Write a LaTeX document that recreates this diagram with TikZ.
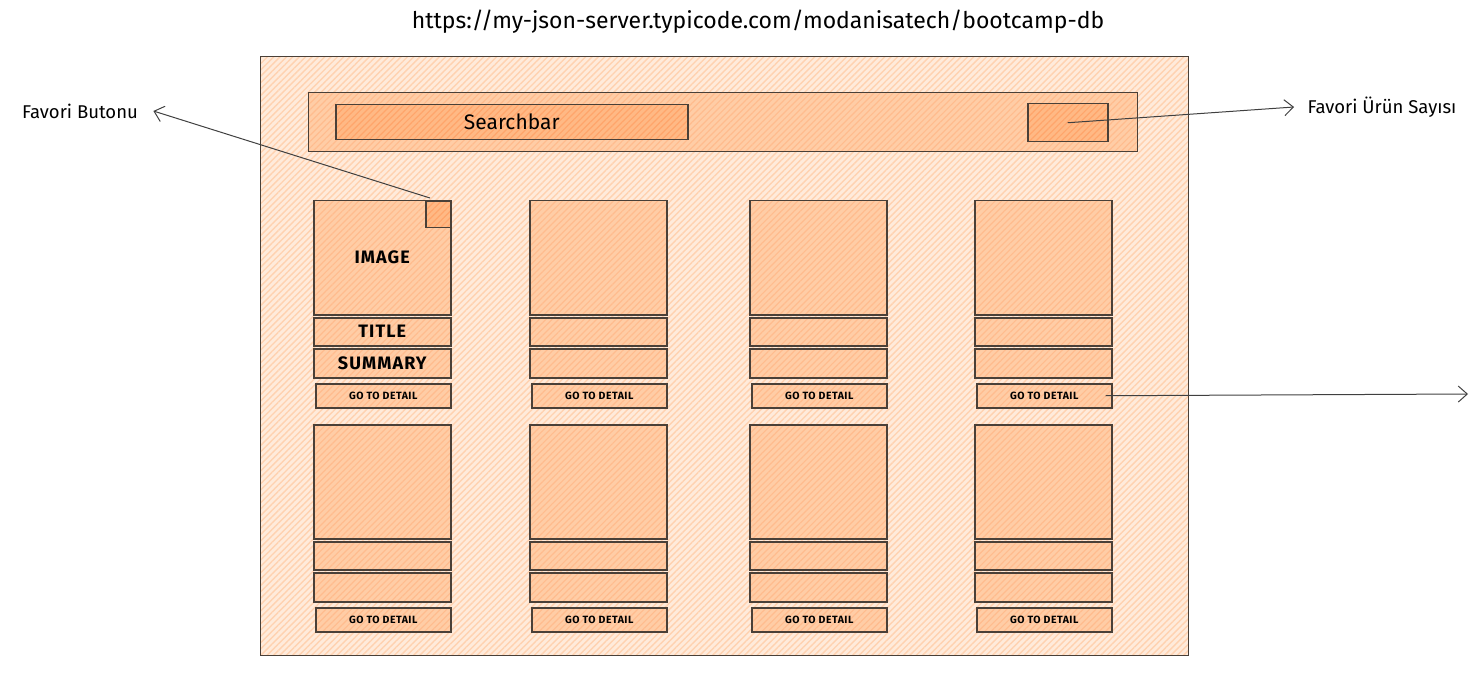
\documentclass[tikz,border=0pt]{standalone}
\usepackage{fontspec}
\setmainfont{Fira Sans}
\usepackage{tikz}
\usetikzlibrary{arrows.meta,patterns.meta,calc}

\definecolor{lineclr}{HTML}{4A4038}
\definecolor{pagebase}{HTML}{FFEBDB}
\definecolor{pagehatch}{HTML}{FFD2B0}
\definecolor{cardbase}{HTML}{FFCDA6}
\definecolor{cardhatch}{HTML}{FFBC8E}
\definecolor{keybase}{HTML}{FFB985}
\definecolor{keyhatch}{HTML}{FFA56B}

\tikzset{
  pagebox/.style={draw=lineclr, line width=1.2pt, anchor=north west, inner sep=0pt,
    preaction={fill=pagebase}, pattern={Lines[angle=45,distance=4.5pt,line width=1.4pt]}, pattern color=pagehatch},
  cardbox/.style={draw=lineclr, line width=1.5pt, anchor=north west, inner sep=0pt,
    preaction={fill=cardbase}, pattern={Lines[angle=45,distance=4.5pt,line width=1.2pt]}, pattern color=cardhatch},
  keybox/.style={draw=lineclr, line width=1.5pt, anchor=north west, inner sep=0pt,
    preaction={fill=keybase}, pattern={Lines[angle=45,distance=4.5pt,line width=1.2pt]}, pattern color=keyhatch},
  gotxt/.style={font=\fontsize{10.5}{12}\selectfont\bfseries\addfontfeatures{LetterSpace=5}},
  cardtxt/.style={font=\fontsize{18}{20}\selectfont\bfseries\addfontfeatures{LetterSpace=6}},
  note/.style={font=\fontsize{18.5}{22}\selectfont},
  pointer/.style={draw=black!75, line width=1pt, -{Straight Barb[length=9pt,width=16pt]}}
}

\begin{document}
\begin{tikzpicture}[x=1pt, y=-1pt]
    \useasboundingbox (0,0) rectangle (1473,687);

    \node (url) at (758,22) {\fontsize{23}{26}\selectfont https://my-json-server.typicode.com/modanisatech/bootcamp-db};

    % page and header
    \node[pagebox, minimum width=928pt, minimum height=599pt] (page) at (260,56) {};
    \node[cardbox, minimum width=829pt, minimum height=59pt] (header) at (308,92) {};
    \node[keybox, minimum width=352pt, minimum height=35pt] (search) at (335,104) {};
    \node[font=\fontsize{21}{24}\selectfont] (searchtxt) at (search.center) {Searchbar};
    \node[keybox, minimum width=80pt, minimum height=38pt] (favcount) at (1027,103) {};

    % product cards
    \foreach \c/\cx in {1/313, 2/529, 3/749, 4/974}{
      \foreach \r/\ry in {1/200, 2/424}{
        \node[cardbox, minimum width=137pt, minimum height=114pt] (img-\c-\r) at (\cx,\ry) {};
        \node[cardbox, minimum width=137pt, minimum height=28pt] (title-\c-\r) at (\cx,\ry+117) {};
        \node[cardbox, minimum width=137pt, minimum height=29pt] (sum-\c-\r) at (\cx,\ry+148) {};
        \node[cardbox, gotxt, minimum width=135pt, minimum height=24pt] (go-\c-\r) at (\cx+2,\ry+183) {GO TO DETAIL};
      }
    }
    \node[cardtxt] (imgtxt) at (img-1-1) {IMAGE};
    \node[cardtxt] (titletxt) at (title-1-1) {TITLE};
    \node[cardtxt] (sumtxt) at (sum-1-1) {SUMMARY};
    \node[keybox, minimum width=25pt, minimum height=26pt] (favbtn) at (425,201) {};

    % callouts
    \node[note] (favlbl) at (80,111) {Favori Butonu};
    \node[note] (countlbl) at (1382,107) {Favori Ürün Sayısı};
    \coordinate (detail) at (1468,394);

    \draw[pointer] ([xshift=5pt,yshift=3pt]favbtn.north west) -- ([xshift=12pt]favlbl.east);
    \draw[pointer] (favcount.center) -- ([xshift=-10pt]countlbl.west);
    \draw[pointer] ([xshift=-7pt]go-4-1.east) -- (detail);
\end{tikzpicture}
\end{document}
